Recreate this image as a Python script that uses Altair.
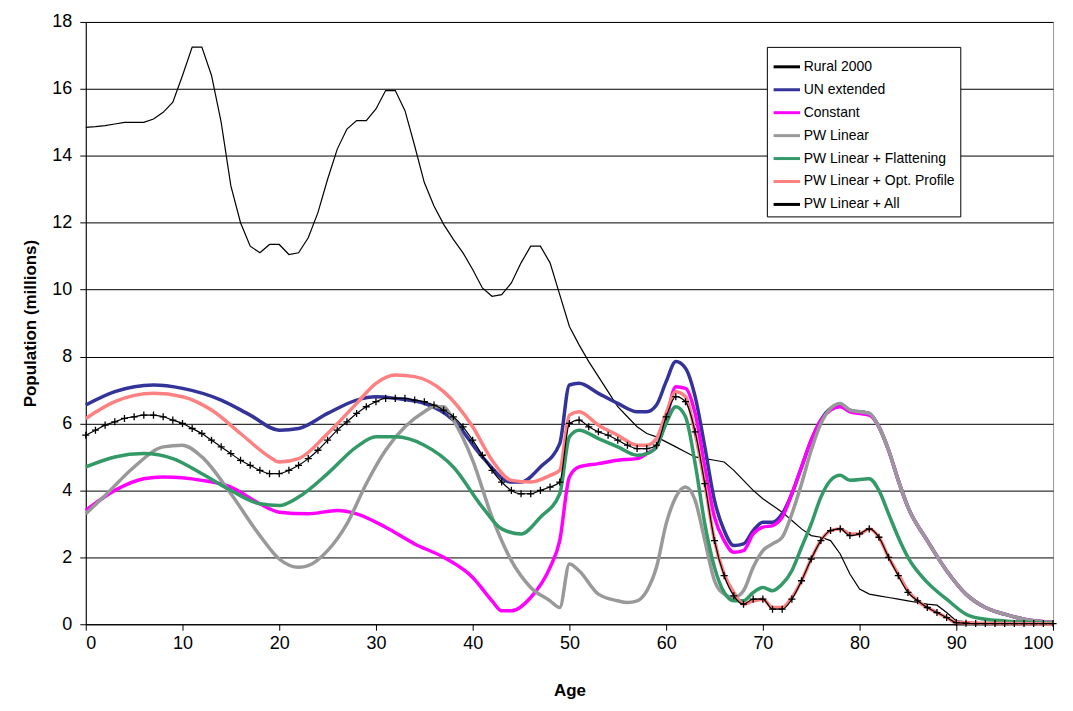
import pandas as pd
import altair as alt

SERIES = ["Rural 2000", "UN extended", "Constant", "PW Linear",
          "PW Linear + Flattening", "PW Linear + Opt. Profile", "PW Linear + All"]
COLORS = ["#000000", "#333399", "#FF00FF", "#999999", "#339966", "#FF8080", "#000000"]
WIDTHS = [1.2, 3.5, 3.5, 3.5, 3.5, 3.5, 1.2]

rural_age = list(range(0, 90)) + [90, 92, 95, 100]
rural_val = [14.85, 14.87, 14.9, 14.95, 15.0, 15.0, 15.0, 15.1, 15.3, 15.6,
             16.4, 17.25, 17.25, 16.4, 15.0, 13.1, 12.0, 11.3, 11.1, 11.35,
             11.35, 11.05, 11.1, 11.55, 12.3, 13.3, 14.2, 14.8, 15.05, 15.05,
             15.4, 15.95, 15.95, 15.35, 14.3, 13.2, 12.5, 11.95, 11.5, 11.1,
             10.6, 10.05, 9.8, 9.85, 10.2, 10.8, 11.3, 11.3, 10.8, 9.85,
             8.9, 8.35, 7.85, 7.4, 6.95, 6.5, 6.2, 5.9, 5.7, 5.6,
             5.45, 5.3, 5.15, 5.0, 4.95, 4.9, 4.85, 4.6, 4.3, 4.0,
             3.75, 3.55, 3.35, 3.1, 2.85, 2.65, 2.6, 2.5, 2.1, 1.5,
             1.05, 0.9, 0.85, 0.8, 0.75, 0.7, 0.65, 0.6, 0.57, 0.35,
             0.1, 0.05, 0.03, 0.02]

un_age = [0, 3, 7, 10, 14, 17, 20, 22, 25, 28, 30, 32, 35, 38, 41, 44, 45, 47, 49,
          50, 51, 53, 55, 57, 58, 59, 60, 61, 62, 63, 64, 65, 66, 67, 68, 69, 70,
          71, 72, 73, 74, 75, 76, 77, 78, 79, 81, 82, 83, 84, 85, 87, 89, 91, 93,
          95, 97, 100]
un_val = [6.55, 6.95, 7.15, 7.05, 6.7, 6.25, 5.8, 5.85, 6.3, 6.7, 6.8, 6.75, 6.6,
          6.1, 5.0, 4.25, 4.25, 4.7, 5.4, 7.15, 7.2, 6.9, 6.6, 6.35, 6.35, 6.55,
          7.25, 7.85, 7.65, 6.8, 5.3, 3.7, 2.8, 2.35, 2.4, 2.8, 3.05, 3.05, 3.3,
          3.9, 4.7, 5.5, 6.1, 6.45, 6.55, 6.4, 6.3, 5.9, 5.2, 4.3, 3.5, 2.5, 1.6,
          0.9, 0.5, 0.3, 0.15, 0.05]

const_age = [0, 3, 6, 8, 12, 15, 18, 20, 23, 26, 28, 31, 34, 37, 40, 42, 43, 44,
             46, 48, 49, 50, 51, 53, 55, 57, 58, 59, 60, 61, 62, 63, 64, 65, 66,
             67, 68, 69, 70, 71, 72, 73, 74, 75, 76, 77, 78, 79, 81, 82, 83, 84,
             85, 87, 89, 91, 93, 95, 97, 100]
const_val = [3.4, 4.0, 4.35, 4.4, 4.3, 4.1, 3.6, 3.35, 3.3, 3.4, 3.3, 2.9, 2.4,
             2.0, 1.4, 0.7, 0.4, 0.4, 0.8, 1.7, 2.5, 4.4, 4.7, 4.8, 4.9, 4.95,
             5.1, 5.3, 6.1, 7.1, 7.05, 6.3, 4.7, 3.2, 2.5, 2.15, 2.2, 2.7, 2.9,
             2.95, 3.2, 3.9, 4.7, 5.5, 6.1, 6.4, 6.5, 6.35, 6.25, 5.9, 5.2, 4.3,
             3.5, 2.5, 1.6, 0.9, 0.5, 0.3, 0.15, 0.05]

pwl_age = [0, 2, 5, 8, 10, 12, 15, 18, 20, 22, 23, 25, 27, 29, 31, 33, 35, 36, 37,
           38, 40, 42, 44, 46, 48, 49, 50, 51, 53, 55, 56, 57, 58, 59, 60, 61, 62,
           63, 64, 65, 66, 67, 68, 69, 70, 71, 72, 73, 74, 75, 76, 77, 78, 79, 81,
           82, 83, 84, 85, 87, 89, 91, 93, 95, 97, 100]
pwl_val = [3.3, 3.85, 4.7, 5.3, 5.35, 5.0, 3.9, 2.65, 1.95, 1.7, 1.75, 2.2, 3.0,
           4.2, 5.2, 5.9, 6.35, 6.5, 6.5, 6.1, 4.9, 3.2, 1.9, 1.1, 0.7, 0.5, 1.8,
           1.6, 0.9, 0.7, 0.65, 0.7, 1.0, 1.7, 3.0, 3.8, 4.1, 3.7, 2.5, 1.3, 0.9,
           0.8, 1.0, 1.7, 2.2, 2.4, 2.6, 3.3, 4.2, 5.2, 6.0, 6.45, 6.6, 6.4, 6.3,
           5.9, 5.2, 4.3, 3.5, 2.5, 1.6, 0.9, 0.5, 0.3, 0.15, 0.05]

flat_age = [0, 3, 6, 9, 12, 15, 18, 20, 22, 25, 28, 30, 32, 35, 38, 41, 43, 45,
            47, 49, 50, 51, 53, 55, 57, 58, 59, 60, 61, 62, 63, 64, 65, 66, 67,
            68, 69, 70, 71, 72, 73, 74, 75, 76, 77, 78, 79, 81, 82, 83, 84, 85,
            87, 89, 91, 93, 95, 100]
flat_val = [4.7, 5.0, 5.1, 4.95, 4.5, 4.0, 3.6, 3.55, 3.8, 4.5, 5.3, 5.6, 5.6,
            5.35, 4.7, 3.5, 2.85, 2.7, 3.2, 3.9, 5.6, 5.8, 5.55, 5.3, 5.05, 5.1,
            5.3, 6.0, 6.5, 6.2, 4.8, 3.0, 1.7, 0.95, 0.7, 0.7, 0.95, 1.1, 1.0,
            1.2, 1.6, 2.3, 3.0, 3.8, 4.3, 4.45, 4.3, 4.35, 4.0, 3.3, 2.6, 2.0,
            1.25, 0.75, 0.3, 0.15, 0.1, 0.03]

opt_age = [0, 3, 7, 10, 13, 16, 19, 20, 22, 25, 28, 30, 32, 34, 37, 40, 42, 44,
           46, 48, 49, 50, 51, 53, 55, 57, 58, 59, 60, 61, 62, 63, 64, 65, 66,
           67, 68, 69, 70, 71, 72, 73, 74, 75, 76, 77, 78, 79, 80, 81, 82, 83,
           84, 85, 86, 87, 88, 89, 90, 95, 100]
opt_val = [6.15, 6.65, 6.9, 6.8, 6.4, 5.7, 5.0, 4.85, 4.95, 5.7, 6.6, 7.2, 7.45,
           7.4, 6.95, 5.9, 4.9, 4.3, 4.25, 4.45, 4.6, 6.25, 6.35, 5.95, 5.65,
           5.35, 5.35, 5.55, 6.3, 6.95, 6.8, 5.7, 4.2, 2.5, 1.5, 0.95, 0.6, 0.7,
           0.75, 0.5, 0.5, 0.8, 1.3, 1.95, 2.5, 2.8, 2.85, 2.7, 2.7, 2.85, 2.6,
           2.0, 1.5, 1.0, 0.7, 0.5, 0.35, 0.2, 0.05, 0.02, 0.01]

all_age = list(range(0, 101))
all_val = [5.65, 5.8, 5.95, 6.05, 6.15, 6.2, 6.25, 6.25, 6.2, 6.1,
           6.0, 5.85, 5.7, 5.5, 5.3, 5.1, 4.9, 4.75, 4.6, 4.5,
           4.5, 4.6, 4.75, 4.95, 5.2, 5.5, 5.8, 6.05, 6.3, 6.5,
           6.65, 6.75, 6.75, 6.75, 6.7, 6.65, 6.55, 6.4, 6.2, 5.9,
           5.5, 5.05, 4.6, 4.25, 4.0, 3.9, 3.9, 4.0, 4.1, 4.25,
           6.0, 6.1, 5.9, 5.75, 5.65, 5.5, 5.35, 5.25, 5.25, 5.35,
           6.2, 6.8, 6.65, 5.75, 4.2, 2.5, 1.45, 0.85, 0.6, 0.75,
           0.75, 0.45, 0.45, 0.75, 1.3, 1.95, 2.5, 2.8, 2.85, 2.65,
           2.7, 2.85, 2.6, 2.0, 1.45, 0.95, 0.7, 0.5, 0.35, 0.2,
           0.05, 0.03, 0.02, 0.02, 0.02, 0.02, 0.02, 0.02, 0.02, 0.02, 0.02]

ages = [rural_age, un_age, const_age, pwl_age, flat_age, opt_age, all_age]
vals = [rural_val, un_val, const_val, pwl_val, flat_val, opt_val, all_val]

color = alt.Color(
    "series:N",
    scale=alt.Scale(domain=SERIES, range=COLORS),
    sort=SERIES,
    legend=alt.Legend(
        title=None, orient="none", legendX=683, legendY=25,
        fillColor="white", strokeColor="black", padding=5,
        symbolType="stroke", symbolStrokeWidth=3, symbolSize=700,
        labelFont="Liberation Sans", labelFontSize=14, rowPadding=1,
        labelOffset=2,
    ),
)
x = alt.X("age:Q", title="Age", scale=alt.Scale(domain=[0, 100], nice=False),
          axis=alt.Axis(values=list(range(0, 101, 10)), grid=False,
                        labelPadding=4, titlePadding=30))
y = alt.Y("pop:Q", title="Population (millions)",
          scale=alt.Scale(domain=[0, 18], nice=False),
          axis=alt.Axis(values=list(range(0, 19, 2)), grid=True,
                        gridColor="black", gridOpacity=1, gridWidth=1,
                        labelPadding=8, titlePadding=12))

layers = []
for name, a, v, w in zip(SERIES, ages, vals, WIDTHS):
    df = pd.DataFrame({"series": name, "age": a, "pop": v})
    interp = "linear" if name == "Rural 2000" else "monotone"
    layers.append(
        alt.Chart(df).mark_line(strokeWidth=w, interpolate=interp)
        .encode(x=x, y=y, color=color)
    )
    if name == "PW Linear + All":
        layers.append(
            alt.Chart(df).mark_point(
                shape="M-1,0L1,0M0,-1L0,1", filled=False, size=50,
                strokeWidth=1.3, color="black", opacity=1,
            ).encode(x=x, y=y)
        )

chart = (
    alt.layer(*layers)
    .properties(width=970, height=604, padding={"left": 13, "top": 4, "right": 5, "bottom": 5})
    .configure_view(stroke="#999999", strokeWidth=1)
    .configure_axis(
        labelFont="Liberation Sans", labelFontSize=18, labelColor="black",
        titleFont="Liberation Sans", titleFontSize=17, titleFontWeight="bold",
        titleColor="black", domainColor="black", tickColor="black",
        tickSize=6,
    )
)

chart.save("out.html", embed_options={"renderer": "svg", "actions": False})
